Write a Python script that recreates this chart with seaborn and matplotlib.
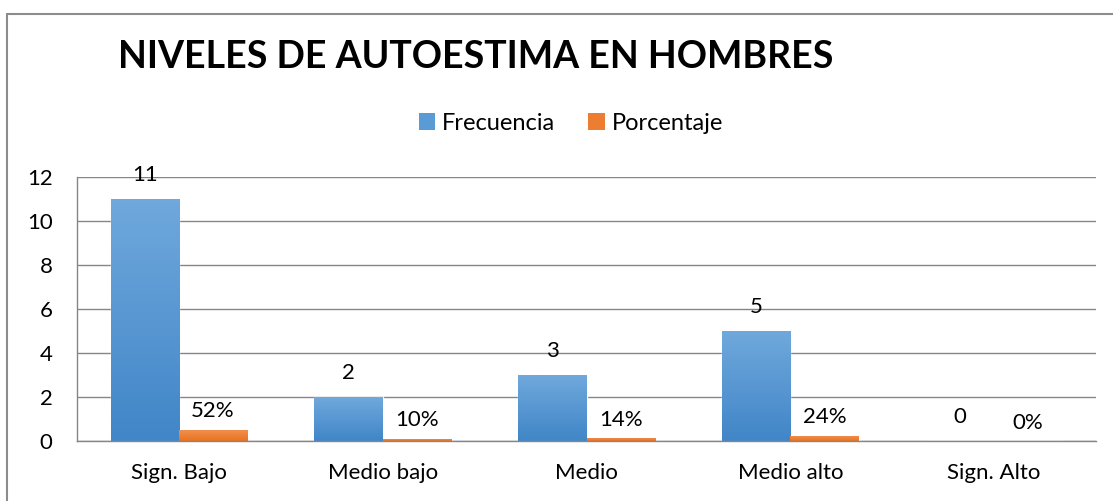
import numpy as np
import pandas as pd
import matplotlib
matplotlib.use("Agg")
import matplotlib.pyplot as plt
import matplotlib.colors as mcolors
from matplotlib.lines import Line2D
from matplotlib.patches import Patch
import seaborn as sns

# data
categorias = ["Sign. Bajo", "Medio bajo", "Medio", "Medio alto", "Sign. Alto"]
frecuencia = [11, 2, 3, 5, 0]
porcentaje = [0.52, 0.10, 0.14, 0.24, 0.0]
etiquetas_pct = ["52%", "10%", "14%", "24%", "0%"]
series = ["Frecuencia", "Porcentaje"]

df = pd.DataFrame({
    "categoria": categorias * 2,
    "serie": [series[0]] * len(categorias) + [series[1]] * len(categorias),
    "valor": frecuencia + porcentaje,
})

sns.set_theme(style="white")
plt.rcParams["font.family"] = ["Lato", "DejaVu Sans"]
plt.rcParams["text.color"] = "black"
plt.rcParams["xtick.labelcolor"] = "black"
plt.rcParams["ytick.labelcolor"] = "black"

azul = "#5B9BD5"
naranja = "#ED7D31"
gris = "#868686"

fig = plt.figure(figsize=(11.13, 5.01), dpi=100)
ax = fig.add_axes([77 / 1113, 60 / 501, (1096 - 77) / 1113, 264 / 501])

sns.barplot(data=df, x="categoria", y="valor", hue="serie", order=categorias,
            hue_order=series, palette=[azul, naranja], width=0.67,
            saturation=1, legend=False, ax=ax)

ax.set_xlim(-0.5, 4.5)
ax.set_ylim(0, 12)
ax.set_yticks(range(0, 13, 2))
ax.set_xlabel("")
ax.set_ylabel("")
ax.grid(axis="y", color=gris, linewidth=1)
ax.set_axisbelow(True)
for s in ["top", "right"]:
    ax.spines[s].set_visible(False)
for s in ["left", "bottom"]:
    ax.spines[s].set_color(gris)
    ax.spines[s].set_linewidth(1)

ax.tick_params(axis="y", length=6.5, color=gris, pad=11, labelsize=16,
               labelcolor="black")
ax.tick_params(axis="x", which="major", length=0, pad=16, labelsize=16,
               labelcolor="black")
ax.set_xticks(np.arange(-0.5, 5, 1), minor=True)
ax.tick_params(axis="x", which="minor", length=6, color=gris, direction="out")

# vertical gradient on the bars, like the Excel fill
def degradado(bar, c_top, c_bot):
    x0, y0 = bar.get_x(), bar.get_y()
    w, h = bar.get_width(), bar.get_height()
    if h <= 0:
        return
    cmap = mcolors.LinearSegmentedColormap.from_list("g", [c_bot, c_top])
    grad = np.linspace(0, 1, 64).reshape(-1, 1)
    im = ax.imshow(grad, cmap=cmap, origin="lower", aspect="auto",
                   extent=[x0, x0 + w, y0, y0 + h], zorder=bar.get_zorder())
    im.set_clip_path(bar)

for bar in ax.containers[0]:
    degradado(bar, "#6FA8DC", "#4186C8")
for bar in ax.containers[1]:
    degradado(bar, "#F39152", "#E9731F")
ax.set_xlim(-0.5, 4.5)
ax.set_ylim(0, 12)

ax.bar_label(ax.containers[0], labels=[str(v) for v in frecuencia],
             padding=10, fontsize=16, color="black")
ax.bar_label(ax.containers[1], labels=etiquetas_pct, padding=6, fontsize=16,
             color="black")

fig.text(0.427, 0.886, "NIVELES DE AUTOESTIMA EN HOMBRES", ha="center",
         va="center", fontsize=27, fontweight="bold", color="black")

handles = [Patch(facecolor=azul, edgecolor="none"),
           Patch(facecolor=naranja, edgecolor="none")]
fig.legend(handles, series, loc="center", bbox_to_anchor=(571 / 1113, 1 - 123 / 501),
           ncol=2, frameon=False, fontsize=17, handlelength=0.7, handleheight=0.7,
           handletextpad=0.3, columnspacing=1.4, labelcolor="black")

# outer chart-area border (top and left visible)
fig.add_artist(Line2D([7 / 1113, 7 / 1113], [0, 1 - 14 / 501], color="#8C8C8C",
                      linewidth=1.5, transform=fig.transFigure))
fig.add_artist(Line2D([7 / 1113, 1], [1 - 14 / 501, 1 - 14 / 501], color="#8C8C8C",
                      linewidth=1.5, transform=fig.transFigure))

fig.savefig("out.png", dpi=100)
